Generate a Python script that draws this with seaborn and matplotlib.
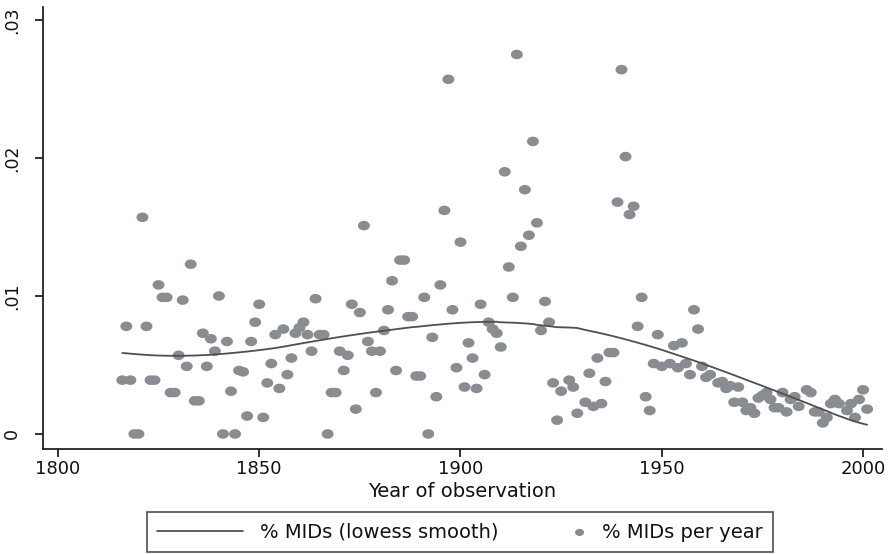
import numpy as np
import pandas as pd
import matplotlib
matplotlib.use("Agg")
import matplotlib.pyplot as plt
from matplotlib.path import Path
from matplotlib.legend_handler import HandlerPathCollection
from matplotlib.collections import PathCollection
import seaborn as sns

# ---- data ----
years = [1816, 1817, 1818, 1819, 1820, 1821, 1822, 1823, 1824, 1825,
         1826, 1827, 1828, 1829, 1830, 1831, 1832, 1833, 1834, 1835,
         1836, 1837, 1838, 1839, 1840, 1841, 1842, 1843, 1844, 1845,
         1846, 1847, 1848, 1849, 1850, 1851, 1852, 1853, 1854, 1855,
         1856, 1857, 1858, 1859, 1860, 1861, 1862, 1863, 1864, 1865,
         1866, 1867, 1868, 1869, 1870, 1871, 1872, 1873, 1874, 1875,
         1876, 1877, 1878, 1879, 1880, 1881, 1882, 1883, 1884, 1885,
         1886, 1887, 1888, 1889, 1890, 1891, 1892, 1893, 1894, 1895,
         1896, 1897, 1898, 1899, 1900, 1901, 1902, 1903, 1904, 1905,
         1906, 1907, 1908, 1909, 1910, 1911, 1912, 1913, 1914, 1915,
         1916, 1917, 1918, 1919, 1920, 1921, 1922, 1923, 1924, 1925,
         1927, 1928, 1929, 1931, 1932, 1933, 1934, 1935, 1936, 1937,
         1938, 1939, 1940, 1941, 1942, 1943, 1944, 1945, 1946, 1947,
         1948, 1949, 1950, 1952, 1953, 1954, 1955, 1956, 1957, 1958,
         1959, 1960, 1961, 1962, 1964, 1965, 1966, 1967, 1968, 1969,
         1970, 1971, 1972, 1973, 1974, 1975, 1976, 1977, 1978, 1979,
         1980, 1981, 1982, 1983, 1984, 1986, 1987, 1988, 1989, 1990,
         1991, 1992, 1993, 1994, 1996, 1997, 1998, 1999, 2000, 2001]

pct_mids = [.0039, .0078, .0039, 0, 0, .0157, .0078, .0039, .0039, .0108,
            .0099, .0099, .0030, .0030, .0057, .0097, .0049, .0123, .0024, .0024,
            .0073, .0049, .0069, .0060, .0100, 0, .0067, .0031, 0, .0046,
            .0045, .0013, .0067, .0081, .0094, .0012, .0037, .0051, .0072, .0033,
            .0076, .0043, .0055, .0073, .0077, .0081, .0072, .0060, .0098, .0072,
            .0072, 0, .0030, .0030, .0060, .0046, .0057, .0094, .0018, .0088,
            .0151, .0067, .0060, .0030, .0060, .0075, .0090, .0111, .0046, .0126,
            .0126, .0085, .0085, .0042, .0042, .0099, 0, .0070, .0027, .0108,
            .0162, .0257, .0090, .0048, .0139, .0034, .0066, .0055, .0033, .0094,
            .0043, .0081, .0076, .0073, .0063, .0190, .0121, .0099, .0275, .0136,
            .0177, .0144, .0212, .0153, .0075, .0096, .0081, .0037, .0010, .0031,
            .0039, .0034, .0015, .0023, .0044, .0020, .0055, .0022, .0038, .0059,
            .0059, .0168, .0264, .0201, .0159, .0165, .0078, .0099, .0027, .0017,
            .0051, .0072, .0049, .0051, .0064, .0048, .0066, .0051, .0043, .0090,
            .0076, .0049, .0041, .0043, .0037, .0038, .0033, .0035, .0023, .0034,
            .0023, .0017, .0019, .0015, .0026, .0028, .0030, .0025, .0019, .0019,
            .0030, .0016, .0025, .0027, .0020, .0032, .0030, .0016, .0016, .0008,
            .0012, .0022, .0025, .0022, .0017, .0022, .0012, .0025, .0032, .0018]

x_ticks = [1800, 1850, 1900, 1950, 2000]
y_ticks = [0, 0.01, 0.02, 0.03]
y_tick_labels = ["0", ".01", ".02", ".03"]

# ---- Stata-style lowess (local linear, tricube, bwidth 0.8) ----
def stata_lowess(x, y, bwidth=0.8):
    x = np.asarray(x, float)
    y = np.asarray(y, float)
    n = len(x)
    k = int(np.floor((n * bwidth - 0.5) / 2))
    out = np.empty(n)
    for i in range(n):
        lo, hi = max(0, i - k), min(n - 1, i + k)
        xs, ys = x[lo:hi + 1], y[lo:hi + 1]
        delta = 1.0001 * max(x[hi] - x[i], x[i] - x[lo])
        w = (1 - (np.abs(xs - x[i]) / delta) ** 3) ** 3
        sw = w.sum()
        xm = (w * xs).sum() / sw
        ym = (w * ys).sum() / sw
        sxx = (w * (xs - xm) ** 2).sum()
        b = (w * (xs - xm) * (ys - ym)).sum() / sxx if sxx > 0 else 0.0
        out[i] = ym + b * (x[i] - xm)
    return out

df = pd.DataFrame({"year": years, "pct": pct_mids})
df["smooth"] = stata_lowess(df["year"], df["pct"])


class RightMarkerHandler(HandlerPathCollection):
    """Put the legend marker at the right end of its handle box."""
    def get_xdata(self, legend, xdescent, ydescent, width, height, fontsize):
        xd = np.array([-xdescent + width - 0.25 * fontsize])
        return xd, xd


# ---- drawing ----
sns.set_theme(style="white")
plt.rcParams["font.family"] = ["DejaVu Sans"]

fig = plt.figure(figsize=(8.92, 5.54), dpi=100)
ax = fig.add_axes([43 / 892, 105 / 554, 839 / 892, 442 / 554])

t = np.linspace(0, 2 * np.pi, 64)
ellipse = Path(np.column_stack([1.25 * np.cos(t), np.sin(t)]), closed=True)

sns.lineplot(data=df, x="year", y="smooth", ax=ax, color="#4f4f4f",
             linewidth=1.3, label="% MIDs (lowess smooth)", zorder=3)
sns.scatterplot(data=df, x="year", y="pct", ax=ax, color="#898c90",
                marker=ellipse, s=74, linewidth=0, edgecolor="none",
                label="% MIDs per year", zorder=2)

ax.set_xlim(1796.3, 2004.7)
ax.set_ylim(-0.00109, 0.03094)
ax.set_xticks(x_ticks)
ax.set_xticklabels([str(v) for v in x_ticks], fontsize=13, color="#111111")
ax.set_yticks(y_ticks)
ax.set_yticklabels(y_tick_labels, fontsize=12.5, rotation=90, va="center",
                   color="#111111")
ax.set_xlabel("Year of observation", fontsize=14, color="#111111", labelpad=3)
ax.set_ylabel("")

for side in ["top", "right"]:
    ax.spines[side].set_visible(False)
for side in ["left", "bottom"]:
    ax.spines[side].set_color("#222222")
    ax.spines[side].set_linewidth(1.3)
ax.tick_params(axis="x", direction="out", length=6, width=1.3,
               color="#222222", pad=2, bottom=True)
ax.tick_params(axis="y", direction="out", length=6, width=1.3,
               color="#222222", pad=10, left=True)
ax.grid(False)

handles, labels = ax.get_legend_handles_labels()
ax.get_legend().remove()
leg = fig.legend(handles, labels, loc="center",
                 bbox_to_anchor=(460 / 892, 1 - 532 / 554), ncol=2,
                 frameon=True, fancybox=False, edgecolor="#222222",
                 fontsize=14, handlelength=4.4, handletextpad=0.9,
                 columnspacing=0.0, borderpad=0.55, borderaxespad=0,
                 markerscale=0.75,
                 handler_map={PathCollection: RightMarkerHandler()})
leg.get_frame().set_linewidth(1.2)
for txt in leg.get_texts():
    txt.set_color("#111111")

fig.savefig("out.png", dpi=100)
